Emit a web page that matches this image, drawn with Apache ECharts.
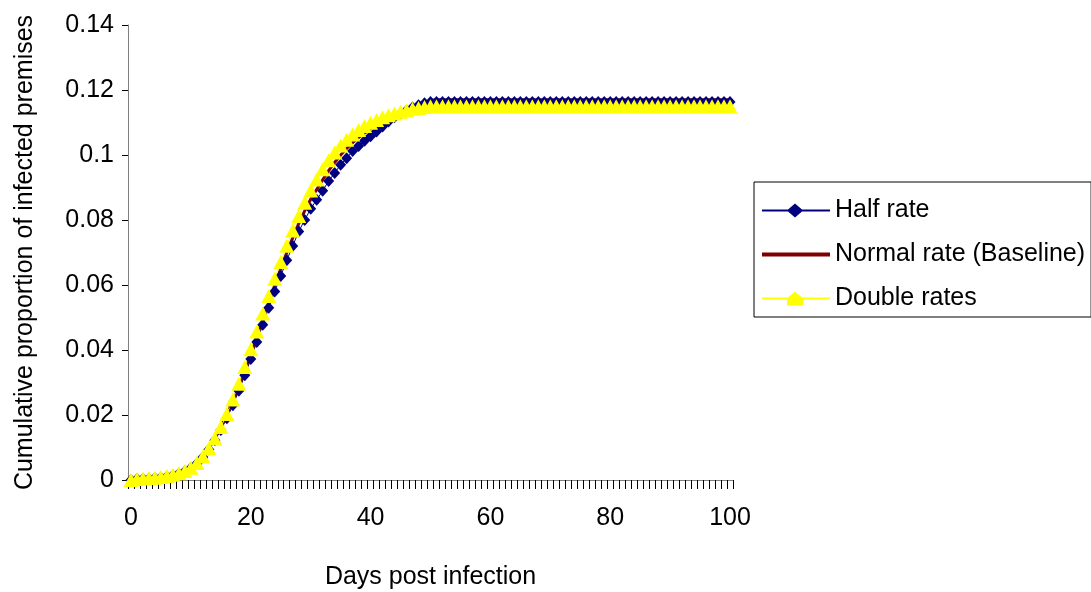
<!DOCTYPE html>
<html>
<head>
<meta charset="utf-8">
<title>Cumulative proportion of infected premises</title>
<script src="https://cdn.jsdelivr.net/npm/echarts@6/dist/echarts.min.js"></script>
<style>
	html, body { margin: 0; padding: 0; background: #fff; }
	#chart { width: 1091px; height: 592px; }
</style>
</head>
<body>
<div id="chart"></div>
<script>
// days post infection (category axis)
var days = [
	0, 1, 2, 3, 4, 5, 6, 7, 8, 9,
	10, 11, 12, 13, 14, 15, 16, 17, 18, 19,
	20, 21, 22, 23, 24, 25, 26, 27, 28, 29,
	30, 31, 32, 33, 34, 35, 36, 37, 38, 39,
	40, 41, 42, 43, 44, 45, 46, 47, 48, 49,
	50, 51, 52, 53, 54, 55, 56, 57, 58, 59,
	60, 61, 62, 63, 64, 65, 66, 67, 68, 69,
	70, 71, 72, 73, 74, 75, 76, 77, 78, 79,
	80, 81, 82, 83, 84, 85, 86, 87, 88, 89,
	90, 91, 92, 93, 94, 95, 96, 97, 98, 99,
	100
];

var halfRate = [
	0, 0.0003, 0.0004, 0.0005, 0.0006, 0.0008, 0.0011, 0.0015, 0.0020, 0.0027,
	0.0037, 0.0051, 0.0070, 0.0094, 0.0122, 0.0154, 0.0190, 0.0230, 0.0275, 0.0322,
	0.0372, 0.0425, 0.0478, 0.0530, 0.0580, 0.0628, 0.0676, 0.0720, 0.0765, 0.0800,
	0.0835, 0.0862, 0.0890, 0.0920, 0.0945, 0.0970, 0.0990, 0.1012, 0.1028, 0.1044,
	0.1058, 0.1072, 0.1088, 0.1103, 0.1116, 0.1127, 0.1137, 0.1146, 0.1153, 0.1159,
	0.1163, 0.1163, 0.1163, 0.1163, 0.1163, 0.1163, 0.1163, 0.1163, 0.1163, 0.1163,
	0.1163, 0.1163, 0.1163, 0.1163, 0.1163, 0.1163, 0.1163, 0.1163, 0.1163, 0.1163,
	0.1163, 0.1163, 0.1163, 0.1163, 0.1163, 0.1163, 0.1163, 0.1163, 0.1163, 0.1163,
	0.1163, 0.1163, 0.1163, 0.1163, 0.1163, 0.1163, 0.1163, 0.1163, 0.1163, 0.1163,
	0.1163, 0.1163, 0.1163, 0.1163, 0.1163, 0.1163, 0.1163, 0.1163, 0.1163, 0.1163,
	0.1163
];

var normalRate = [
	0, 0.0003, 0.0004, 0.0005, 0.0007, 0.0008, 0.0010, 0.0014, 0.0019, 0.0026,
	0.0037, 0.0051, 0.0071, 0.0097, 0.0128, 0.0163, 0.0202, 0.0240, 0.0286, 0.0335,
	0.0387, 0.0441, 0.0495, 0.0548, 0.0600, 0.0650, 0.0699, 0.0745, 0.0789, 0.0828,
	0.0864, 0.0894, 0.0924, 0.0952, 0.0977, 0.1000, 0.1020, 0.1038, 0.1054, 0.1068,
	0.1080, 0.1092, 0.1103, 0.1113, 0.1122, 0.1131, 0.1139, 0.1147, 0.1155, 0.1162,
	0.1168, 0.1170, 0.1170, 0.1170, 0.1170, 0.1170, 0.1170, 0.1170, 0.1170, 0.1170,
	0.1170, 0.1170, 0.1170, 0.1170, 0.1170, 0.1170, 0.1170, 0.1170, 0.1170, 0.1170,
	0.1170, 0.1170, 0.1170, 0.1170, 0.1170, 0.1170, 0.1170, 0.1170, 0.1170, 0.1170,
	0.1170, 0.1170, 0.1170, 0.1170, 0.1170, 0.1170, 0.1170, 0.1170, 0.1170, 0.1170,
	0.1170, 0.1170, 0.1170, 0.1170, 0.1170, 0.1170, 0.1170, 0.1170, 0.1170, 0.1170,
	0.1170
];

var doubleRates = [
	0, 0.0003, 0.0005, 0.0006, 0.0007, 0.0009, 0.0012, 0.0016, 0.0021, 0.0028,
	0.0038, 0.0052, 0.0072, 0.0098, 0.0128, 0.0163, 0.0203, 0.0248, 0.0296, 0.0348,
	0.0402, 0.0457, 0.0512, 0.0566, 0.0619, 0.0671, 0.0721, 0.0768, 0.0812, 0.0853,
	0.0891, 0.0925, 0.0956, 0.0984, 0.1008, 0.1029, 0.1047, 0.1063, 0.1077, 0.1089,
	0.1099, 0.1108, 0.1116, 0.1122, 0.1128, 0.1133, 0.1138, 0.1142, 0.1145, 0.1148,
	0.1150, 0.1150, 0.1150, 0.1150, 0.1150, 0.1150, 0.1150, 0.1150, 0.1150, 0.1150,
	0.1150, 0.1150, 0.1150, 0.1150, 0.1150, 0.1150, 0.1150, 0.1150, 0.1150, 0.1150,
	0.1150, 0.1150, 0.1150, 0.1150, 0.1150, 0.1150, 0.1150, 0.1150, 0.1150, 0.1150,
	0.1150, 0.1150, 0.1150, 0.1150, 0.1150, 0.1150, 0.1150, 0.1150, 0.1150, 0.1150,
	0.1150, 0.1150, 0.1150, 0.1150, 0.1150, 0.1150, 0.1150, 0.1150, 0.1150, 0.1150,
	0.1150
];

var yTicks = [0, 0.02, 0.04, 0.06, 0.08, 0.1, 0.12, 0.14];

var main = {
	font: 'Liberation Sans, Arial, sans-serif',
	init: function() {
		main.chart()
	},
	chart: function() {
		var myChart = echarts.init(document.getElementById('chart'));
		var axisGrey = '#808080';
		var txt = { fontFamily: main.font, fontSize: 25, color: '#000' };

		// legend icons drawn as paths so the baseline shows as a plain thick line
		var lineDiamond = 'path://M0,6 L26,6 L33,0 L40,6 L68,6 L68,8 L40,8 L33,14 L26,8 L0,8 Z';
		var thickLine = 'path://M0,0 L0,0 M0,5 L68,5 L68,9 L0,9 Z M68,14 L68,14';
		var lineTriangle = 'path://M0,6 L26,6 L33,0 L40,6 L68,6 L68,8 L41,8 L41,14 L25,14 L25,8 L0,8 Z';

		var option = {
			animation: false,
			backgroundColor: '#fff',
			textStyle: {
				fontFamily: main.font,
				color: '#000'
			},
			grid: {
				left: 128,
				right: 358,
				top: 25,
				bottom: 112,
				outerBoundsMode: 'none'
			},
			legend: {
				orient: 'vertical',
				left: 754,
				top: 182,
				padding: [16, 6, 6, 8],
				itemGap: 19,
				itemWidth: 68,
				itemHeight: 16,
				borderColor: '#000',
				borderWidth: 1,
				textStyle: txt,
				data: [
					{ name: 'Half rate', icon: lineDiamond },
					{ name: 'Normal rate (Baseline)', icon: thickLine },
					{ name: 'Double rates', icon: lineTriangle }
				]
			},
			xAxis: {
				type: 'category',
				data: days,
				boundaryGap: true,
				name: 'Days post infection',
				nameLocation: 'middle',
				nameGap: 85,
				nameTextStyle: txt,
				axisLine: {
					lineStyle: { color: axisGrey, width: 1 }
				},
				axisTick: {
					show: true,
					interval: 0,
					length: 9,
					lineStyle: { color: '#000', width: 1 }
				},
				axisLabel: {
					interval: 19,
					margin: 26,
					fontFamily: main.font,
					fontSize: 25,
					color: '#000'
				},
				splitLine: { show: false }
			},
			yAxis: {
				type: 'value',
				min: 0,
				max: 0.14,
				interval: 0.02,
				name: 'Cumulative proportion of infected premises',
				nameLocation: 'middle',
				nameGap: 90,
				nameTextStyle: txt,
				axisLine: {
					show: true,
					lineStyle: { color: axisGrey, width: 1 }
				},
				axisTick: {
					show: true,
					length: 6,
					lineStyle: { color: '#000' }
				},
				axisLabel: {
					margin: 14,
					fontFamily: main.font,
					fontSize: 25,
					color: '#000',
					formatter: function(v) {
						// match the tick list
						for (var i = 0; i < yTicks.length; i++) {
							if (Math.abs(yTicks[i] - v) < 1e-9) return String(yTicks[i]);
						}
						return '';
					}
				},
				splitLine: { show: false }
			},
			series: [{
				name: 'Half rate',
				type: 'line',
				data: halfRate,
				symbol: 'diamond',
				symbolSize: [11, 12],
				showAllSymbol: true,
				color: '#000080',
				lineStyle: { color: '#000080', width: 1 },
				itemStyle: { color: '#000080' }
			}, {
				name: 'Normal rate (Baseline)',
				type: 'line',
				data: normalRate,
				symbol: 'none',
				color: '#800000',
				lineStyle: { color: '#800000', width: 3 }
			}, {
				name: 'Double rates',
				type: 'line',
				data: doubleRates,
				symbol: 'triangle',
				symbolSize: [15, 14],
				showAllSymbol: true,
				color: '#FFFF00',
				lineStyle: { color: '#FFFF00', width: 1 },
				itemStyle: { color: '#FFFF00' }
			}]
		};

		myChart.setOption(option);
	}
}

main.init()
</script>
</body>
</html>
